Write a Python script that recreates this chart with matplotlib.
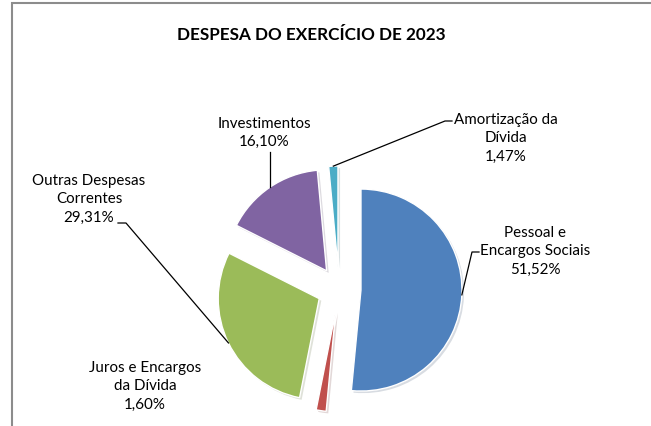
import matplotlib.pyplot as plt
import numpy as np

# Despesa do exercício de 2023 (%)
categorias = ['Pessoal e\nEncargos Sociais', 'Juros e Encargos\nda Dívida',
              'Outras Despesas\nCorrentes', 'Investimentos', 'Amortização da\nDívida']
valores = [51.52, 1.60, 29.31, 16.10, 1.47]
rotulos = ['51,52%', '1,60%', '29,31%', '16,10%', '1,47%']
cores = ['#4F81BD', '#C0504D', '#9BBB59', '#8064A2', '#4BACC6']

W, H = 651, 427
fig = plt.figure(figsize=(W / 100, H / 100), dpi=100)
ax = fig.add_axes([0, 0, 1, 1])
ax.set_xlim(0, W)
ax.set_ylim(0, H)
ax.axis('off')

plt.rcParams['font.family'] = ['Lato', 'DejaVu Sans']

# chart frame
ax.plot([11.5, 11.5, W + 5], [-5, H - 3.5, H - 3.5], color='#8c8c8c', lw=1.5,
        solid_joinstyle='miter', clip_on=False)

ax.text(311, H - 35.5, 'DESPESA DO EXERCÍCIO DE 2023', ha='center', va='center',
        fontsize=12.3, fontweight='bold', color='black')

# explode is given in data units (pixels here), radius 101 px
wedges, _ = ax.pie(valores, colors=cores, startangle=90, counterclock=False,
                   center=(339, 137), radius=101, explode=[22] * 5,
                   wedgeprops=dict(edgecolor='white', linewidth=1),
                   shadow=dict(ox=1.5, oy=-1.5, shade=0.5, alpha=0.18, edgecolor='none'))
ax.set_xlim(0, W)
ax.set_ylim(0, H)
ax.set_aspect('auto')


def ponto_arco(w):
    ang = np.deg2rad((w.theta1 + w.theta2) / 2)
    cx, cy = w.center
    return cx + w.r * np.cos(ang), cy + w.r * np.sin(ang)


# label positions (text centre) and leader elbows, in pixel coords from bottom
pos_texto = [(535.5, H - 251), (145, H - 386), (89, H - 199), (264.5, H - 133), (506, H - 138)]
cotovelos = [[(472, H - 253), (479, H - 253)],
             None,
             [(126, H - 224), (118, H - 224)],
             [(None, H - 153)],
             [(445, H - 122), (452, H - 122)]]

for w, cat, rot, p, cot in zip(wedges, categorias, rotulos, pos_texto, cotovelos):
    ax.text(p[0], p[1], cat + '\n' + rot, ha='center', va='center',
            fontsize=10.9, linespacing=1.4, color='black')
    if cot is None:
        continue
    x0, y0 = ponto_arco(w)
    xs, ys = [x0], [y0]
    for (cx, cy) in cot:
        xs.append(x0 if cx is None else cx)
        ys.append(cy)
    ax.plot(xs, ys, color='black', lw=0.9)

fig.savefig('out.png', dpi=100)
